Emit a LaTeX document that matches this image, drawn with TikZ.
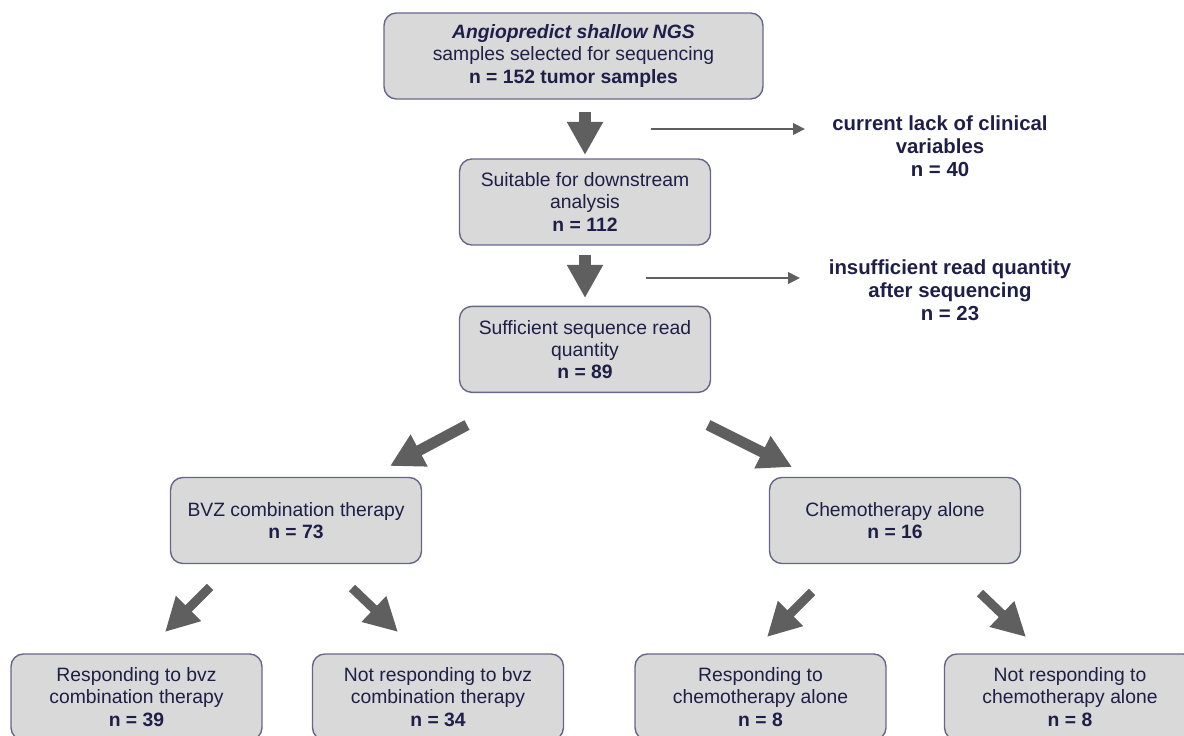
\documentclass[tikz,border=0pt]{standalone}
\usepackage{fontspec}
\setmainfont{Liberation Sans}
\usetikzlibrary{arrows.meta, positioning}
\definecolor{txtnavy}{HTML}{1E1E48}
\definecolor{boxfill}{HTML}{D9D9D9}
\definecolor{boxline}{HTML}{66668A}
\definecolor{arrgray}{HTML}{5F5F5F}

\begin{document}
\begin{tikzpicture}[
    x=0.02cm, y=-0.02cm,
    align=center,
    font=\fontsize{11}{12.6}\selectfont,
    text=txtnavy,
    box/.style={draw=boxline, fill=boxfill, rectangle, rounded corners=7pt, line width=0.8pt, minimum width=5.02cm, minimum height=1.72cm, inner sep=2pt},
    side/.style={font=\fontsize{11.6}{13}\selectfont\bfseries},
    bigarrow/.style={-{Triangle[width=19.3pt, length=18.8pt]}, line width=6.6pt, draw=arrgray},
    smallarrow/.style={-{Triangle[width=19pt, length=19pt]}, line width=5.1pt, draw=arrgray},
    arrow/.style={-{Triangle[width=6.5pt, length=6.8pt]}, line width=1.4pt, draw=arrgray}
]
    \useasboundingbox (0,0) rectangle (1184,736);
    \clip (0,0) rectangle (1184,736);

    % Boxes
    \node[box, minimum width=7.58cm] (samples) at (573.5,56) {\textbf{\textit{Angiopredict shallow NGS}}\\samples selected for sequencing\\\textbf{n = 152 tumor samples}};
    \node[box] (suitable) at (585,202) {Suitable for downstream\\analysis\\\textbf{n = 112}};
    \node[box, below=1.2cm of suitable] (sufficient) {Sufficient sequence read\\quantity\\\textbf{n = 89}};
    \node[box] (bvz) at (296,520.5) {BVZ combination therapy\\\textbf{n = 73}};
    \node[box] (chemo) at (895,520.5) {Chemotherapy alone\\\textbf{n = 16}};
    \node[box] (bvzyes) at (136.5,697) {Responding to bvz\\combination therapy\\\textbf{n = 39}};
    \node[box] (bvzno) at (438,697) {Not responding to bvz\\combination therapy\\\textbf{n = 34}};
    \node[box] (chemoyes) at (760.5,697) {Responding to\\chemotherapy alone\\\textbf{n = 8}};
    \node[box] (chemono) at (1070,697) {Not responding to\\chemotherapy alone\\\textbf{n = 8}};

    % Excluded samples
    \node[side] (noclin) at (940,146) {current lack of clinical\\variables\\n = 40};
    \node[side] (fewreads) at (950,290) {insufficient read quantity\\after sequencing\\n = 23};

    % Arrow ends
    \coordinate (d1a) at (585,112);  \coordinate (d1b) at (585,155);
    \coordinate (d2a) at (585,255);  \coordinate (d2b) at (585,298);
    \coordinate (l1a) at (467,425);  \coordinate (l1b) at (390,466);
    \coordinate (r1a) at (708,425);  \coordinate (r1b) at (792,467);
    \coordinate (l2a) at (210,587);  \coordinate (l2b) at (165,632);
    \coordinate (r2a) at (352,588);  \coordinate (r2b) at (398,632);
    \coordinate (l3a) at (812,592);  \coordinate (l3b) at (767,637);
    \coordinate (r3a) at (980,593);  \coordinate (r3b) at (1026,637);
    \coordinate (x1a) at (651,129);  \coordinate (x1b) at (805,129);
    \coordinate (x2a) at (646,278);  \coordinate (x2b) at (800,278);

    % Connections
    \draw[bigarrow] (d1a) -- (d1b);
    \draw[bigarrow] (d2a) -- (d2b);
    \draw[bigarrow, line width=6.2pt] (l1a) -- (l1b);
    \draw[bigarrow, line width=6.2pt] (r1a) -- (r1b);
    \draw[smallarrow] (l2a) -- (l2b);
    \draw[smallarrow] (r2a) -- (r2b);
    \draw[smallarrow] (l3a) -- (l3b);
    \draw[smallarrow] (r3a) -- (r3b);
    \draw[arrow] (x1a) -- (x1b);
    \draw[arrow] (x2a) -- (x2b);
\end{tikzpicture}
\end{document}
